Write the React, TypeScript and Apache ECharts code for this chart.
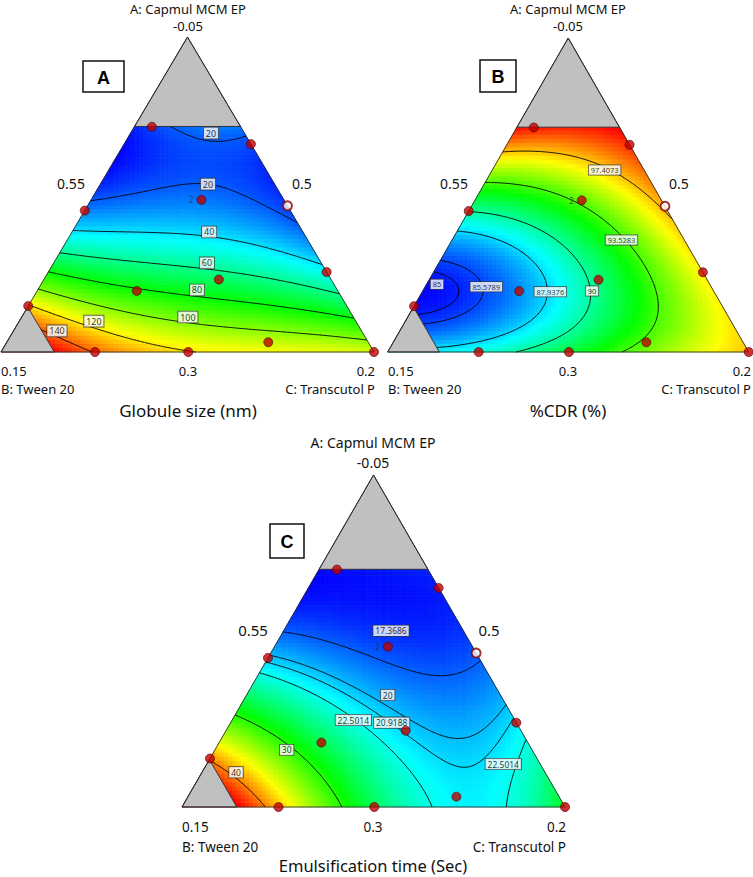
import React, { useEffect, useRef } from "react";
import * as echarts from "echarts";

// ---------------- data ----------------
// Pseudo-component fractions: a = A (Capmul MCM EP, top vertex), c = C (Transcutol P, right vertex), b = 1 - a - c (Tween 20)
const A_MAX = 0.716; // constraint edge (grey cap at top)
const B_MAX = 0.857; // constraint edge (grey corner at B)

// design points
const designTop = [0.715, 0.66, 0.483, 0.464, 0.449, 0.254, 0.23, 0.194, 0.146, 0.031, 0, 0, 0];
const designRight = [0.047, 0.34, 0.296, 0.536, 0, 0.746, 0.469, 0.267, 0, 0.701, 0.252, 0.502, 1];
const designReplicates = [1, 1, 2, 1, 1, 1, 1, 1, 1, 1, 1, 1, 1];
const designOpen = [0, 0, 0, 1, 0, 0, 0, 0, 0, 0, 0, 0, 0];

// Globule size (nm): readings [value, a, c] taken along the drawn contours
const globuleLevels = [20, 40, 60, 80, 100, 120, 140];
const globuleReadings = [
  [20, 0.7143, 0.1361], [20, 0.6952, 0.2154], [20, 0.6698, 0.3059], [20, 0.6635, 0.3365],
  [20, 0.5016, 0], [20, 0.5111, 0.1439], [20, 0.5175, 0.2479], [20, 0.5175, 0.3149], [20, 0.4984, 0.3916], [20, 0.4667, 0.4745], [20, 0.4349, 0.544], [20, 0.3968, 0.6032],
  [40, 0.4127, 0.0028], [40, 0.4, 0.1539], [40, 0.381, 0.3671], [40, 0.3302, 0.5641], [40, 0.2698, 0.7302],
  [60, 0.2857, 0], [60, 0.2794, 0.2061], [60, 0.2794, 0.4126], [60, 0.219, 0.6653], [60, 0.1778, 0.8222],
  [80, 0.219, 0.0031], [80, 0.2, 0.219], [80, 0.1873, 0.4131], [80, 0.1397, 0.705], [80, 0.1048, 0.8952],
  [100, 0.1714, 0], [100, 0.1365, 0.1436], [100, 0.1079, 0.2999], [100, 0.0952, 0.4537], [100, 0.073, 0.7383], [100, 0.0413, 0.9587],
  [120, 0.1524, 0], [120, 0.127, 0.0947], [120, 0.0984, 0.2001], [120, 0.054, 0.3188], [120, 0, 0.4531],
  [140, 0.1175, 0.0244], [140, 0.0667, 0.1168], [140, 0, 0.2064],
  [14, 0.7, 0.02], [13, 0.6, 0.15], [17.5, 0.5, 0.45], [152, 0.1, 0.03], [146, 0, 0.15],
];
const globuleLabelText = ["20", "20", "40", "60", "80", "100", "120", "140"];
const globuleLabelTop = [0.695, 0.533, 0.381, 0.283, 0.197, 0.111, 0.098, 0.067];
const globuleLabelRight = [0.2155, 0.2885, 0.3675, 0.4105, 0.427, 0.4455, 0.2, 0.1165];

// %CDR (%)
const cdrLevels = [85, 85.5789, 87.9376, 90, 93.5283, 97.4073];
const cdrReadings = [
  [97.4073, 0.6369, 0], [97.4073, 0.6369, 0.1035], [97.4073, 0.6083, 0.2286], [97.4073, 0.5796, 0.3121], [97.4073, 0.5159, 0.441], [97.4073, 0.3981, 0.6019],
  [93.5283, 0.5318, 0], [93.5283, 0.5096, 0.1671], [93.5283, 0.4459, 0.3098], [93.5283, 0.3567, 0.468], [93.5283, 0.2611, 0.5878], [93.5283, 0.1561, 0.6763], [93.5283, 0.086, 0.6975], [93.5283, 0.0382, 0.6798], [93.5283, 0, 0.6075],
  [90, 0.4395, 0], [90, 0.4108, 0.1805], [90, 0.3471, 0.3149], [90, 0.2707, 0.4085], [90, 0.1943, 0.4688], [90, 0.1115, 0.4908], [90, 0.0478, 0.4645], [90, 0.0064, 0.4048],
  [87.9376, 0.3854, 0], [87.9376, 0.3312, 0.1926], [87.9376, 0.2611, 0.3025], [87.9376, 0.1911, 0.3541], [87.9376, 0.1115, 0.3662], [87.9376, 0.0605, 0.3086], [87.9376, 0.0287, 0.186], [87.9376, 0.0159, 0.1203],
  [85.5789, 0.3471, 0], [85.5789, 0.2866, 0.0847], [85.5789, 0.207, 0.1688], [85.5789, 0.1338, 0.1611], [85.5789, 0.1146, 0.0599],
  [85, 0.242, 0.0239], [85, 0.2156, 0.075], [85, 0.1911, 0.0493],
  [84.7, 0.215, 0], [100.3, 0.716, 0], [97.3, 0, 1], [99, 0.66, 0.34],
];
const cdrLabelText = ["97.4073", "93.5283", "90", "87.9376", "85.5789", "85"];
const cdrLabelTop = [0.5796, 0.3567, 0.1943, 0.192, 0.208, 0.2156];
const cdrLabelRight = [0.3112, 0.4693, 0.4688, 0.3544, 0.1691, 0.0288];

// Emulsification time (Sec)
const emulLevels = [17.3686, 20, 20.9188, 22.5014, 30, 40];
const emulReadings = [
  [17.3686, 0.5392, 0], [17.3686, 0.5452, 0.1138], [17.3686, 0.5301, 0.2807], [17.3686, 0.509, 0.3747], [17.3686, 0.4578, 0.4839], [17.3686, 0.4066, 0.5934],
  [20, 0.4488, 0], [20, 0.4277, 0.1543], [20, 0.3916, 0.2611], [20, 0.3373, 0.3692], [20, 0.2741, 0.4922], [20, 0.244, 0.5777], [20, 0.2289, 0.6558], [20, 0.2861, 0.7139],
  [20.9188, 0.415, 0], [20.9188, 0.3675, 0.1766], [20.9188, 0.3072, 0.3112], [20.9188, 0.253, 0.4218], [20.9188, 0.1717, 0.5434], [20.9188, 0.1325, 0.6492], [20.9188, 0.1717, 0.7001], [20.9188, 0.256, 0.744],
  [22.5014, 0.3825, 0], [22.5014, 0.3313, 0.1425], [22.5014, 0.2892, 0.2601], [22.5014, 0.262, 0.3155], [22.5014, 0.2018, 0.403], [22.5014, 0.1416, 0.4723], [22.5014, 0, 0.6136],
  [22.5014, 0.2018, 0.7982], [22.5014, 0.1295, 0.7734], [22.5014, 0, 0.7963],
  [30, 0.253, 0], [30, 0.2319, 0.0538], [30, 0.1717, 0.1883], [30, 0.0904, 0.2968], [30, 0, 0.3864],
  [40, 0.1386, 0.009], [40, 0.1054, 0.0883], [40, 0, 0.2219],
  [15.5, 0.7, 0.05], [13.5, 0.66, 0.3], [14.5, 0.6, 0.4], [46, 0.1, 0.04], [44, 0, 0.15], [28, 0, 1], [21.8, 0.03, 0.7],
];
const emulLabelText = ["17.3686", "20", "22.5014", "20.9188", "22.5014", "30", "40"];
const emulLabelTop = [0.531, 0.3373, 0.262, 0.254, 0.1295, 0.1717, 0.1045];
const emulLabelRight = [0.2802, 0.3684, 0.3163, 0.4205, 0.774, 0.1875, 0.0888];

// ---------------- helpers ----------------
const JET = ["#0000ff", "#00ffff", "#00ff00", "#ffff00", "#ff0000"];
const FONT = "'Noto Sans', 'Open Sans', sans-serif";

const toXY = (a: number, c: number) => [c + a / 2, a];

function monomials(a: number, c: number, deg: number): number[] {
  const r: number[] = [];
  for (let d = 0; d <= deg; d++)
    for (let k = 0; k <= d; k++) r.push(Math.pow(a, d - k) * Math.pow(c, k));
  return r;
}

function fitSurface(obs: number[][], deg: number, ridge: number) {
  const m = monomials(0.5, 0.5, deg).length;
  const M = Array.from({ length: m }, () => new Array(m + 1).fill(0));
  for (const [v, a, c] of obs) {
    const r = monomials(a, c, deg);
    for (let i = 0; i < m; i++) {
      for (let j = 0; j < m; j++) M[i][j] += r[i] * r[j];
      M[i][m] += r[i] * v;
    }
  }
  for (let i = 1; i < m; i++) M[i][i] += ridge;
  for (let col = 0; col < m; col++) {
    let piv = col;
    for (let r = col + 1; r < m; r++) if (Math.abs(M[r][col]) > Math.abs(M[piv][col])) piv = r;
    const tmp = M[col]; M[col] = M[piv]; M[piv] = tmp;
    for (let r = 0; r < m; r++) {
      if (r === col) continue;
      const f = M[r][col] / M[col][col];
      if (f === 0) continue;
      for (let k = col; k <= m; k++) M[r][k] -= f * M[col][k];
    }
  }
  const coef = M.map((row, i) => row[m] / row[i]);
  return (a: number, c: number) => {
    const r = monomials(a, c, deg);
    let s = 0;
    for (let i = 0; i < m; i++) s += coef[i] * r[i];
    return s;
  };
}

function clip(poly: number[][], fn: (p: number[]) => number) {
  const out: number[][] = [];
  for (let i = 0; i < poly.length; i++) {
    const p = poly[i];
    const q = poly[(i + 1) % poly.length];
    const fp = fn(p);
    const fq = fn(q);
    if (fp >= 0) out.push(p);
    if ((fp >= 0) !== (fq >= 0)) {
      const t = fp / (fp - fq);
      out.push([p[0] + t * (q[0] - p[0]), p[1] + t * (q[1] - p[1])]);
    }
  }
  return out;
}

function buildCells(f: (a: number, c: number) => number, nx: number, ny: number) {
  const polys: number[][][] = [];
  const data: number[][] = [];
  let min = Infinity;
  let max = -Infinity;
  for (let iy = 0; iy < ny; iy++) {
    const y0 = iy / ny;
    const y1 = (iy + 1) / ny;
    if (y0 > A_MAX) break;
    for (let ix = 0; ix < nx; ix++) {
      const x0 = ix / nx;
      const x1 = (ix + 1) / nx;
      let poly = [[x0, y0], [x1, y0], [x1, y1], [x0, y1]];
      poly = clip(poly, (p) => p[0] - p[1] / 2);
      if (poly.length < 3) continue;
      poly = clip(poly, (p) => 1 - p[0] - p[1] / 2);
      if (poly.length < 3) continue;
      let cx = 0;
      let cy = 0;
      poly.forEach((p) => { cx += p[0]; cy += p[1]; });
      cx /= poly.length;
      cy /= poly.length;
      const a = cy;
      const c = cx - cy / 2;
      const v = f(a, c);
      if (a <= A_MAX && 1 - a - c <= B_MAX) {
        min = Math.min(min, v);
        max = Math.max(max, v);
      }
      data.push([cx, cy, v, polys.length]);
      polys.push(poly);
    }
  }
  data.forEach((d) => { d[2] = Math.max(min, Math.min(max, d[2])); });
  return { polys, data, min, max };
}

function contourLines(f: (a: number, c: number) => number, level: number, N: number) {
  const V: number[][] = [];
  for (let i = 0; i <= N; i++) {
    V.push([]);
    for (let j = 0; j <= N - i; j++) V[i].push(f(i / N, j / N));
  }
  const pts = new Map<string, number[]>();
  const adj = new Map<string, string[]>();
  const edge = (p: number[], q: number[]) => {
    const vp = V[p[0]][p[1]] - level;
    const vq = V[q[0]][q[1]] - level;
    if ((vp >= 0) === (vq >= 0)) return null;
    const k1 = p[0] * 10000 + p[1];
    const k2 = q[0] * 10000 + q[1];
    const key = k1 < k2 ? k1 + "_" + k2 : k2 + "_" + k1;
    if (!pts.has(key)) {
      const t = vp / (vp - vq);
      const a = (p[0] + t * (q[0] - p[0])) / N;
      const c = (p[1] + t * (q[1] - p[1])) / N;
      pts.set(key, [a, c]);
    }
    return key;
  };
  const link = (k1: string, k2: string) => {
    if (!adj.has(k1)) adj.set(k1, []);
    if (!adj.has(k2)) adj.set(k2, []);
    adj.get(k1)!.push(k2);
    adj.get(k2)!.push(k1);
  };
  const tri = (t: number[][]) => {
    const ks: string[] = [];
    for (let e = 0; e < 3; e++) {
      const k = edge(t[e], t[(e + 1) % 3]);
      if (k) ks.push(k);
    }
    if (ks.length === 2) link(ks[0], ks[1]);
  };
  for (let i = 0; i < N; i++) {
    for (let j = 0; j < N - i; j++) {
      tri([[i, j], [i + 1, j], [i, j + 1]]);
      if (i + j + 2 <= N) tri([[i + 1, j], [i + 1, j + 1], [i, j + 1]]);
    }
  }
  const used = new Set<string>();
  const lines: number[][][] = [];
  const walk = (start: string) => {
    const line = [pts.get(start)!];
    used.add(start);
    let cur = start;
    for (;;) {
      const nb = (adj.get(cur) || []).find((k) => !used.has(k));
      if (!nb) break;
      line.push(pts.get(nb)!);
      used.add(nb);
      cur = nb;
    }
    return line;
  };
  adj.forEach((nbs, k) => { if (nbs.length === 1 && !used.has(k)) lines.push(walk(k)); });
  adj.forEach((_n, k) => {
    if (!used.has(k)) {
      const l = walk(k);
      l.push(l[0]);
      lines.push(l);
    }
  });
  return lines.map((l) => l.map((p) => toXY(p[0], p[1])));
}

// ---------------- layout ----------------
const panels = [
  {
    readings: globuleReadings, degree: 3, ridge: 1e-4, levels: globuleLevels,
    labelText: globuleLabelText, labelTop: globuleLabelTop, labelRight: globuleLabelRight, labelFont: 9,
    grid: { left: 1, top: 37, width: 373, height: 315 },
  },
  {
    readings: cdrReadings, degree: 3, ridge: 1e-4, levels: cdrLevels,
    labelText: cdrLabelText, labelTop: cdrLabelTop, labelRight: cdrLabelRight, labelFont: 7.5,
    grid: { left: 387.7, top: 38, width: 361, height: 314 },
  },
  {
    readings: emulReadings, degree: 4, ridge: 1e-3, levels: emulLevels,
    labelText: emulLabelText, labelTop: emulLabelTop, labelRight: emulLabelRight, labelFont: 8.5,
    grid: { left: 182, top: 475, width: 383, height: 332 },
  },
];

const texts = [
  // panel A
  { t: "A: Capmul MCM EP", x: 188, y: 8.5, al: "center", s: 13 },
  { t: "-0.05", x: 188, y: 26, al: "center", s: 13 },
  { t: "0.55", x: 71, y: 183, al: "center", s: 14 },
  { t: "0.5", x: 302, y: 183, al: "center", s: 14 },
  { t: "0.15", x: 1, y: 371, al: "left", s: 13 },
  { t: "0.3", x: 188, y: 371, al: "center", s: 13 },
  { t: "0.2", x: 375, y: 371, al: "right", s: 13 },
  { t: "B: Tween 20", x: 1, y: 389, al: "left", s: 13 },
  { t: "C: Transcutol P", x: 375, y: 389, al: "right", s: 13 },
  { t: "Globule size (nm)", x: 188, y: 410, al: "center", s: 17 },
  // panel B
  { t: "A: Capmul MCM EP", x: 568, y: 8.5, al: "center", s: 13 },
  { t: "-0.05", x: 568, y: 26, al: "center", s: 13 },
  { t: "0.55", x: 454, y: 183, al: "center", s: 14 },
  { t: "0.5", x: 679, y: 183, al: "center", s: 14 },
  { t: "0.15", x: 388, y: 371, al: "left", s: 13 },
  { t: "0.3", x: 568, y: 371, al: "center", s: 13 },
  { t: "0.2", x: 751, y: 371, al: "right", s: 13 },
  { t: "B: Tween 20", x: 388, y: 389, al: "left", s: 13 },
  { t: "C: Transcutol P", x: 751, y: 389, al: "right", s: 13 },
  { t: "%CDR (%)", x: 568, y: 410, al: "center", s: 17 },
  // panel C
  { t: "A: Capmul MCM EP", x: 373, y: 442, al: "center", s: 14 },
  { t: "-0.05", x: 373, y: 462, al: "center", s: 14 },
  { t: "0.55", x: 253, y: 630, al: "center", s: 15 },
  { t: "0.5", x: 489, y: 630, al: "center", s: 15 },
  { t: "0.15", x: 182, y: 827, al: "left", s: 13.5 },
  { t: "0.3", x: 373, y: 827, al: "center", s: 13.5 },
  { t: "0.2", x: 566, y: 827, al: "right", s: 13.5 },
  { t: "B: Tween 20", x: 182, y: 847, al: "left", s: 13.5 },
  { t: "C: Transcutol P", x: 566, y: 847, al: "right", s: 13.5 },
  { t: "Emulsification time (Sec)", x: 373, y: 865, al: "center", s: 16.5 },
];

const boxes = [
  { t: "A", x: 83, y: 61, w: 41, h: 31 },
  { t: "B", x: 480, y: 60, w: 36, h: 32 },
  { t: "C", x: 270, y: 524, w: 34, h: 34 },
];

function buildOption() {
  const series: any[] = [];
  const visualMap: any[] = [];
  const grid: any[] = [];
  const xAxis: any[] = [];
  const yAxis: any[] = [];

  panels.forEach((p, gi) => {
    grid.push({ ...p.grid });
    xAxis.push({ type: "value", gridIndex: gi, min: 0, max: 1, show: false });
    yAxis.push({ type: "value", gridIndex: gi, min: 0, max: 1, show: false });
    const f = fitSurface(p.readings, p.degree, p.ridge);
    const cells = buildCells(f, Math.round(p.grid.width / 4.2), Math.round(p.grid.height / 4.2));

    visualMap.push({
      type: "continuous", show: false, seriesIndex: series.length, dimension: 2,
      min: cells.min, max: cells.max, inRange: { color: JET },
    });
    series.push({
      type: "custom", xAxisIndex: gi, yAxisIndex: gi, silent: true, z: 1, progressive: 0,
      encode: { x: 0, y: 1 }, data: cells.data,
      renderItem: (_params: any, api: any) => {
        const poly = cells.polys[api.value(3)];
        const color = api.visual("color");
        return {
          type: "polygon",
          shape: { points: poly.map((q) => api.coord(q)) },
          style: { fill: color, stroke: color, lineWidth: 0.7 },
        };
      },
    });

    // contour lines
    const lines: number[][][] = [];
    p.levels.forEach((lv) => contourLines(f, lv, 110).forEach((l) => lines.push(l)));
    series.push({
      type: "custom", xAxisIndex: gi, yAxisIndex: gi, silent: true, z: 2, progressive: 0,
      encode: { x: 0, y: 1 },
      data: lines.map((l, k) => [l[0][0], l[0][1], k]),
      renderItem: (_params: any, api: any) => {
        const l = lines[api.value(2)];
        return {
          type: "polyline",
          shape: { points: l.map((q) => api.coord(q)) },
          style: { stroke: "#000", lineWidth: 0.9, fill: "none" },
        };
      },
    });

    // grey constrained regions and outline
    const shapes = [
      { pts: [toXY(A_MAX, 0), toXY(1, 0), toXY(A_MAX, 1 - A_MAX)], fill: "#c0c0c0" },
      { pts: [toXY(0, 0), toXY(1 - B_MAX, 0), toXY(0, 1 - B_MAX)], fill: "#c0c0c0" },
      { pts: [toXY(0, 0), toXY(0, 1), toXY(1, 0)], fill: "none" },
    ];
    series.push({
      type: "custom", xAxisIndex: gi, yAxisIndex: gi, silent: true, z: 3, progressive: 0,
      encode: { x: 0, y: 1 },
      data: shapes.map((s, k) => [s.pts[0][0], s.pts[0][1], k]),
      renderItem: (_params: any, api: any) => {
        const s = shapes[api.value(2)];
        return {
          type: "polygon",
          shape: { points: s.pts.map((q) => api.coord(q)) },
          style: { fill: s.fill, stroke: "#2a2a2a", lineWidth: 0.9 },
        };
      },
    });

    // contour labels
    series.push({
      type: "scatter", xAxisIndex: gi, yAxisIndex: gi, silent: true, z: 4,
      symbolSize: 1, itemStyle: { color: "rgba(0,0,0,0)" },
      data: p.labelText.map((t, k) => ({ name: t, value: toXY(p.labelTop[k], p.labelRight[k]) })),
      label: {
        show: true, position: "inside", formatter: "{b}", color: "#000",
        fontFamily: FONT, fontSize: p.labelFont, lineHeight: p.labelFont + 1,
        backgroundColor: "#fff", borderColor: "#333", borderWidth: 0.8, padding: [1, 2, 0, 2],
      },
    });

    // design points
    series.push({
      type: "scatter", xAxisIndex: gi, yAxisIndex: gi, silent: true, z: 5,
      symbol: "circle", symbolSize: 9,
      data: designTop.map((a, k) => ({
        value: toXY(a, designRight[k]),
        itemStyle: designOpen[k]
          ? { color: "#ffffff", borderColor: "#8a0000", borderWidth: 2 }
          : { color: "#c00000", borderColor: "#500000", borderWidth: 0.8 },
        label: designReplicates[k] > 1
          ? { show: true, formatter: String(designReplicates[k]), position: "left", distance: 3, fontSize: 8, color: "#333", fontFamily: FONT }
          : { show: false },
      })),
    });
  });

  const graphic: any[] = [];
  texts.forEach((t) => {
    graphic.push({
      type: "text", x: t.x, y: t.y, z: 100, silent: true,
      style: {
        text: t.t, fill: "#111", font: `${t.s}px ${FONT}`,
        textAlign: t.al, align: t.al, textVerticalAlign: "middle", verticalAlign: "middle",
      },
    });
  });
  boxes.forEach((b) => {
    graphic.push({
      type: "rect", z: 100, silent: true,
      shape: { x: b.x, y: b.y, width: b.w, height: b.h },
      style: { fill: "#fff", stroke: "#111", lineWidth: 1.5 },
    });
    graphic.push({
      type: "text", z: 101, silent: true, x: b.x + b.w / 2, y: b.y + b.h / 2 + 1,
      style: {
        text: b.t, fill: "#000", font: `bold 18px 'Liberation Sans', Arial, sans-serif`,
        textAlign: "center", align: "center", textVerticalAlign: "middle", verticalAlign: "middle",
      },
    });
  });

  return { animation: false, backgroundColor: "#fff", grid, xAxis, yAxis, visualMap, series, graphic };
}

export default function App() {
  const ref = useRef<HTMLDivElement>(null);
  useEffect(() => {
    if (!ref.current) return;
    const chart = echarts.init(ref.current, undefined, { renderer: "svg" });
    chart.setOption(buildOption() as any);
    return () => chart.dispose();
  }, []);
  return (
    <div
      ref={ref}
      style={{ position: "fixed", left: 0, top: 0, width: 753, height: 877, background: "#fff" }}
    />
  );
}
